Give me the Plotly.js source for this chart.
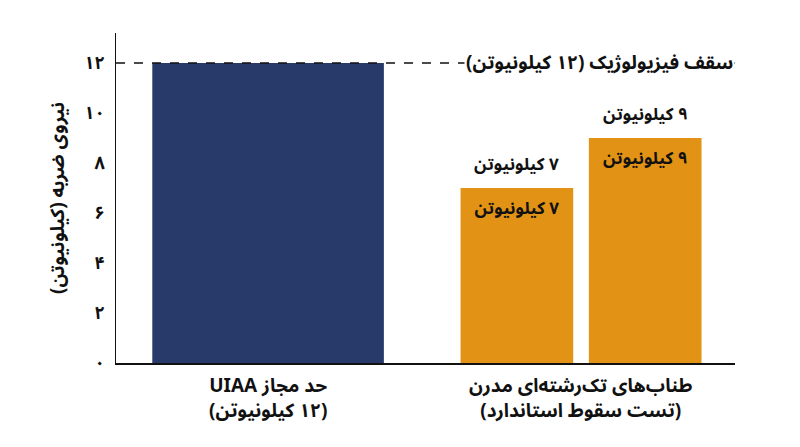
<!DOCTYPE html>
<html>
<head>
<meta charset="utf-8">
<script src="https://cdn.plot.ly/plotly-3.0.1.min.js"></script>
<style>
  html, body { margin: 0; padding: 0; background: #fff; }
  #chart { width: 800px; height: 447px; }
</style>
</head>
<body>
<div id="chart"></div>
<script>
// RTL wrapper so parentheses and mixed Latin text order correctly
const rtl = s => '\u202B' + s + '\u202C';

const categories = ['uiaa', 'ropes'];
const categoryTitles = ['حد مجاز UIAA', 'طناب‌های تک‌رشته‌ای مدرن'];
const categorySubtitles = ['(۱۲ کیلونیوتن)', '(تست سقوط استاندارد)'];
const limitValue = [12];
const ropeValues = [7, 9];
const ropeLabels = ['۷ کیلونیوتن', '۹ کیلونیوتن'];
const ceilingValue = 12;
const ceilingLabel = 'سقف فیزیولوژیک (۱۲ کیلونیوتن)';
const yTickVals = [0, 2, 4, 6, 8, 10, 12];
const yTickText = ['۰', '۲', '۴', '۶', '۸', '۱۰', '۱۲'];
const yTitle = 'نیروی ضربه (کیلونیوتن)';

const FONT = '"Noto Sans Arabic", "DejaVu Sans", sans-serif';
const NAVY = '#283a6a';
const ORANGE = '#e29315';

const ropeOffsets = [-0.385, 0.025];

const traces = [
    {
        type: 'bar',
        x: [categories[0]],
        y: limitValue,
        width: 0.74,
        marker: { color: NAVY },
        hoverinfo: 'skip'
    }
];

ropeValues.forEach((v, i) => {
    traces.push({
        type: 'bar',
        x: [categories[1]],
        y: [v],
        width: 0.36,
        offset: ropeOffsets[i],
        marker: { color: ORANGE },
        text: [rtl(ropeLabels[i])],
        textposition: 'inside',
        insidetextanchor: 'end',
        textangle: 0,
        textfont: { family: FONT, size: 17, color: '#111', weight: 'bold' },
        cliponaxis: false,
        hoverinfo: 'skip'
    });
});

const annotations = ropeValues.map((v, i) => ({
    x: 1 + ropeOffsets[i] + 0.18,
    y: v,
    xref: 'x',
    yref: 'y',
    text: rtl(ropeLabels[i]),
    showarrow: false,
    yanchor: 'bottom',
    yshift: 3,
    font: { family: FONT, size: 17, color: '#111', weight: 'bold' }
}));

annotations.push({
    x: 1,
    xref: 'paper',
    y: ceilingValue,
    yref: 'y',
    xanchor: 'right',
    text: rtl(ceilingLabel),
    showarrow: false,
    bgcolor: '#fff',
    font: { family: FONT, size: 19, color: '#111', weight: 'bold' }
});

// category labels, two lines each, under the x axis
categories.forEach((c, i) => {
    annotations.push({
        x: c, xref: 'x',
        y: 0, yref: 'paper',
        yanchor: 'middle', yshift: -35,
        text: rtl(categoryTitles[i]) + '<br>' + rtl(categorySubtitles[i]),
        showarrow: false,
        font: { family: FONT, size: 19, color: '#111', weight: 'bold' }
    });
});

Plotly.newPlot('chart', traces, {
    width: 800,
    height: 447,
    paper_bgcolor: '#fff',
    plot_bgcolor: '#fff',
    barmode: 'overlay',
    showlegend: false,
    margin: { l: 116, r: 65, t: 33, b: 84 },
    font: { family: FONT, color: '#111' },
    xaxis: {
        type: 'category',
        range: [-0.486, 1.492],
        showticklabels: false,
        showline: true,
        linecolor: '#111',
        linewidth: 1.5,
        ticks: '',
        showgrid: false,
        zeroline: false,
        fixedrange: true
    },
    yaxis: {
        range: [0, 13.2],
        tickvals: yTickVals,
        ticktext: yTickText,
        tickfont: { family: FONT, size: 18, color: '#111', weight: 'bold' },
        ticks: '',
        ticklabelstandoff: 6,
        showline: true,
        linecolor: '#111',
        linewidth: 1.5,
        showgrid: false,
        zeroline: false,
        title: {
            text: rtl(yTitle),
            font: { family: FONT, size: 19, color: '#111', weight: 'bold' },
            standoff: 14
        },
        fixedrange: true
    },
    shapes: [{
        type: 'line',
        xref: 'paper',
        x0: 0,
        x1: 1,
        yref: 'y',
        y0: ceilingValue,
        y1: ceilingValue,
        line: { color: '#111', width: 1.3, dash: 'dash' },
        layer: 'above'
    }],
    annotations: annotations
}, { displayModeBar: false, staticPlot: true });
</script>
</body>
</html>
